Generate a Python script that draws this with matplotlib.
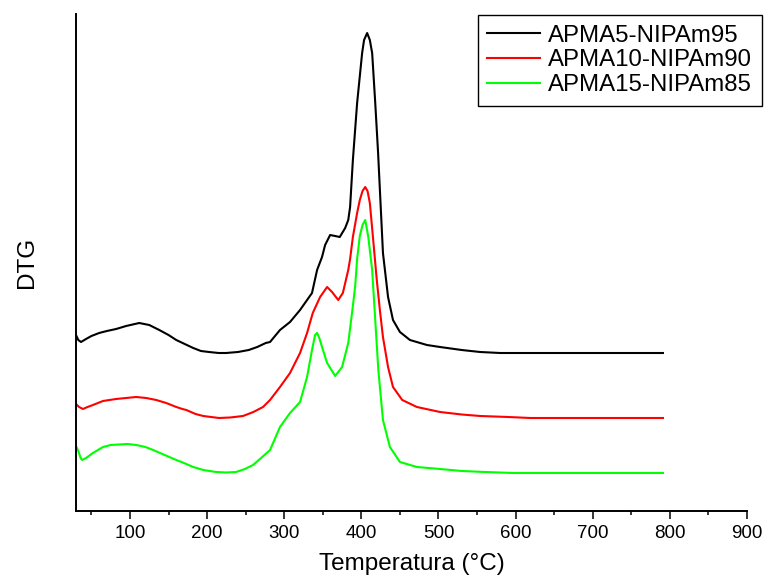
import matplotlib
matplotlib.use('Agg')
import matplotlib.pyplot as plt
from matplotlib.ticker import MultipleLocator

plt.rcParams['font.family'] = ['Liberation Sans', 'DejaVu Sans']

# DTG curves (arbitrary units, curves offset vertically)
t_apma5 = [30, 33, 36.5, 43, 50, 60, 70, 82, 95, 112, 125, 138, 150, 160, 171, 182, 192,
           202.5, 215, 224.6, 240, 254, 265, 276, 281.6, 294.5, 307.5, 320.5, 336, 342.6,
           349, 353, 359.5, 366, 372, 379, 383, 385.4, 389, 394.5, 401, 403.5, 407.5, 411,
           414, 418, 421.7, 428, 434.6, 441, 450, 463, 485, 502, 530, 554, 580, 597, 791]
d_apma5 = [176, 171, 169, 172, 175, 178, 180, 182, 185, 188, 186, 181, 176, 171, 167, 163, 160,
           159, 158, 158, 159, 161, 164, 168, 169, 181, 189, 201, 218, 241,
           254, 266, 276, 275, 274, 283, 291, 304, 351, 408, 458, 471, 478, 471,
           458, 408, 358, 258, 214, 191, 179, 171, 166, 164, 161, 159, 158, 158, 158]

t_apma10 = [30, 34, 39, 45, 52, 65, 82, 95, 108, 121, 134, 147, 160, 168, 173, 185, 195,
            205, 215.5, 230, 246.6, 260, 272.5, 281.6, 294.5, 307.5, 320.5, 329.6, 337,
            346.5, 355.6, 362, 370, 376, 383, 385.4, 389, 394.5, 398, 401.5, 405, 408,
            411, 415, 420, 424, 428, 434.6, 441, 453, 472, 502, 530, 554, 590, 619, 791]
d_apma10 = [107, 104, 102, 104, 106, 110, 112, 113, 114, 113, 111, 108, 104, 102, 101, 97, 95,
            94, 93, 93.5, 95, 99, 104, 111, 124, 138, 158, 178, 198,
            214, 224, 219, 211, 218, 241, 252, 274, 298, 311, 320, 324, 320,
            308, 274, 231, 201, 174, 144, 124, 111, 104, 99, 96.5, 95, 94, 93, 93]

t_apma15 = [30, 33, 36, 38, 43, 52, 65, 75, 86, 97, 108, 120, 130, 145, 160, 170, 182, 195,
            211.6, 225, 237.5, 249, 259.6, 270, 281.6, 294.5, 307.5, 320.5, 329.6, 336, 340,
            342.6, 345.5, 349, 355.6, 366, 375, 383, 389, 392, 394.5, 398, 401.5, 405, 409,
            414, 418, 422, 428, 437, 450, 472, 502, 530, 560, 597, 791]
d_apma15 = [65, 60, 53, 51, 53, 58, 64, 66, 66.5, 67, 66, 64, 61, 56, 51, 48, 44, 41,
            39, 38.5, 39, 42, 46, 53, 61, 84, 98, 109, 134, 161, 176,
            178, 173, 164, 148, 135, 144, 168, 205, 225, 252, 275, 286, 291, 274,
            241, 191, 141, 91, 64, 49, 44, 42, 40, 39, 38, 38]

labels = ['APMA5-NIPAm95', 'APMA10-NIPAm90', 'APMA15-NIPAm85']
colors = ['#000000', '#ff0000', '#00ff00']

fig = plt.figure(figsize=(7.66, 5.87), dpi=100)
ax = fig.add_axes([0.0992, 0.1295, 0.876, 0.8466])

ax.plot(t_apma5, d_apma5, color=colors[0], lw=1.5, label=labels[0])
ax.plot(t_apma10, d_apma10, color=colors[1], lw=1.5, label=labels[1])
ax.plot(t_apma15, d_apma15, color=colors[2], lw=1.5, label=labels[2])

ax.set_xlim(30, 900)
ax.set_ylim(0, 497)
ax.xaxis.set_major_locator(MultipleLocator(100))
ax.xaxis.set_minor_locator(MultipleLocator(50))
ax.set_yticks([])
ax.tick_params(axis='x', which='major', direction='out', length=6, width=1.1, labelsize=13.5, pad=4)
ax.tick_params(axis='x', which='minor', direction='out', length=3, width=1.1)
for s in ['top', 'right']:
    ax.spines[s].set_visible(False)
for s in ['left', 'bottom']:
    ax.spines[s].set_linewidth(1.4)

ax.set_xlabel('Temperatura (°C)', fontsize=17.5, labelpad=8)
ax.set_ylabel('DTG', fontsize=17.5, labelpad=27)

leg = ax.legend(loc='upper right', bbox_to_anchor=(762 / 766, 1 - 15 / 587),
                bbox_transform=fig.transFigure, borderaxespad=0, fontsize=17.3,
                handlelength=2.2, handletextpad=0.35, labelspacing=0.12,
                borderpad=0.4, fancybox=False, framealpha=1)
leg.get_frame().set_edgecolor('black')
leg.get_frame().set_linewidth(1.0)

fig.savefig('out.png', dpi=100)
